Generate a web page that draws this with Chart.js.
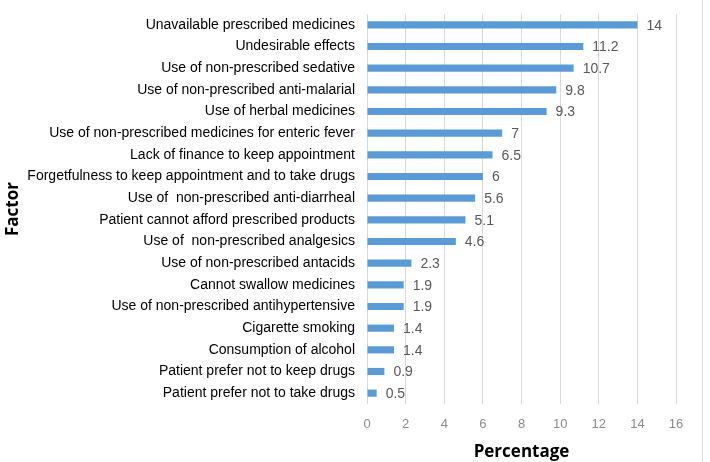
<!DOCTYPE html>
<html><head><meta charset="utf-8">
<script src="https://cdn.jsdelivr.net/npm/chart.js@4"></script>
<style>html,body{margin:0;padding:0;background:#fff}#w{width:710px;height:462px;position:relative}</style>
</head><body><div id="w"><canvas id="c"></canvas></div>
<script>
const categories = [
  "Unavailable prescribed medicines",
  "Undesirable effects",
  "Use of non-prescribed sedative",
  "Use of non-prescribed anti-malarial",
  "Use of herbal medicines",
  "Use of non-prescribed medicines for enteric fever",
  "Lack of finance to keep appointment",
  "Forgetfulness to keep appointment and to take drugs",
  "Use of  non-prescribed anti-diarrheal",
  "Patient cannot afford prescribed products",
  "Use of  non-prescribed analgesics",
  "Use of non-prescribed antacids",
  "Cannot swallow medicines",
  "Use of non-prescribed antihypertensive",
  "Cigarette smoking",
  "Consumption of alcohol",
  "Patient prefer not to keep drugs",
  "Patient prefer not to take drugs"
];
const percentages = [14, 11.2, 10.7, 9.8, 9.3, 7, 6.5, 6, 5.6, 5.1, 4.6, 2.3, 1.9, 1.9, 1.4, 1.4, 0.9, 0.5];
const xTicks = [0, 2, 4, 6, 8, 10, 12, 14, 16];

const labelPlugin = {
  id: 'vals',
  afterDatasetsDraw(chart) {
    const ctx = chart.ctx;
    const meta = chart.getDatasetMeta(0);
    ctx.save();
    ctx.font = '14px "Liberation Sans", Arial, sans-serif';
    ctx.fillStyle = '#595959';
    ctx.textBaseline = 'middle';
    ctx.textAlign = 'left';
    meta.data.forEach((el, i) => {
      ctx.fillText(String(percentages[i]), el.x + 9, el.y + 1);
    });
    ctx.restore();
  },
  afterDraw(chart) {
    const ctx = chart.ctx;
    ctx.save();
    ctx.strokeStyle = '#d9d9d9';
    ctx.lineWidth = 1;
    ctx.beginPath();
    ctx.moveTo(702.5, 0);
    ctx.lineTo(702.5, 462);
    ctx.stroke();
    ctx.restore();
  }
};

new Chart(document.getElementById('c'), {
  type: 'bar',
  data: {
    labels: categories,
    datasets: [{
      data: percentages,
      backgroundColor: '#5b9bd5',
      borderWidth: 0,
      barPercentage: 0.66,
      categoryPercentage: 0.5
    }]
  },
  options: {
    indexAxis: 'y',
    responsive: true,
    maintainAspectRatio: false,
    animation: false,
    layout: { padding: { top: 14, right: 34, left: 0, bottom: 0 } },
    plugins: { legend: { display: false }, tooltip: { enabled: false } },
    scales: {
      x: {
        min: 0, max: 16,
        afterBuildTicks(s) { s.ticks = xTicks.map(v => ({ value: v })); },
        grid: { color: '#d9d9d9', drawTicks: false },
        border: { display: false },
        ticks: { color: '#8c8c8c', font: { size: 13, family: '"Liberation Sans", Arial, sans-serif' }, padding: 13 },
        title: { display: true, text: 'Percentage', color: '#000', font: { size: 17, weight: 'bold', family: '"Open Sans", sans-serif' }, padding: { top: 0, bottom: 0 } },
        afterFit(s) { s.height = 58; }
      },
      y: {
        grid: { display: false, drawTicks: false },
        border: { display: false },
        ticks: { color: '#000', font: { size: 14, family: '"Liberation Sans", Arial, sans-serif' }, padding: 12, autoSkip: false },
        title: { display: true, text: 'Factor', color: '#000', font: { size: 17, weight: 'bold', family: '"Open Sans", sans-serif' }, padding: { top: 3, bottom: 0 } },
        afterFit(s) { s.width = 367; s.paddingTop = 0; s.paddingBottom = 0; }
      }
    }
  },
  plugins: [labelPlugin]
});
</script></body></html>
